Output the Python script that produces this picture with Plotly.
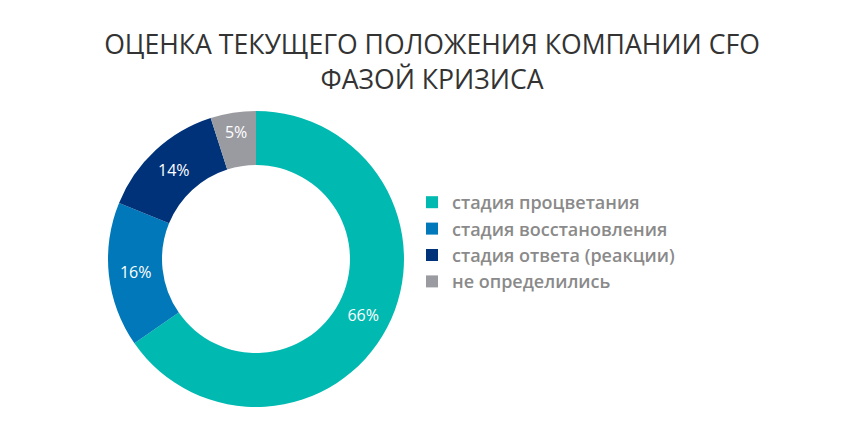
import plotly.graph_objects as go

labels = ["стадия процветания", "стадия восстановления", "стадия ответа (реакции)", "не определились"]
values = [66, 16, 14, 5]
colors = ["#00B9B1", "#0078B9", "#00327A", "#9A9BA1"]
text_labels = ["66%", "16%", "14%", "5%"]
title_text = "ОЦЕНКА ТЕКУЩЕГО ПОЛОЖЕНИЯ КОМПАНИИ CFO<br>ФАЗОЙ КРИЗИСА"

fig = go.Figure(go.Pie(
    labels=labels,
    values=values,
    text=text_labels,
    textinfo="text",
    textposition="inside",
    insidetextorientation="horizontal",
    hole=0.635,
    sort=False,
    direction="clockwise",
    rotation=0,
    marker=dict(colors=colors, line=dict(width=0)),
    textfont=dict(family="Open Sans", size=16, color="white"),
    domain=dict(x=[108/864, 404/864], y=[(432-407)/432, (432-111)/432]),
    hoverinfo="label+percent",
))

fig.update_layout(
    width=864, height=432,
    margin=dict(l=0, r=0, t=0, b=0),
    paper_bgcolor="white",
    plot_bgcolor="white",
    title=dict(
        text=title_text,
        x=0.5, xanchor="center", y=(432-54)/432, yanchor="middle",
        font=dict(family="Open Sans", size=26.6, color="#333333"),
    ),
    legend=dict(
        x=412/864, xanchor="left", y=(432-184)/432, yanchor="top",
        font=dict(family="Open Sans", size=18, color="#8A8A8A", weight=600),
        tracegroupgap=0, itemwidth=30,
    ),
)

fig.write_html("out.html")
